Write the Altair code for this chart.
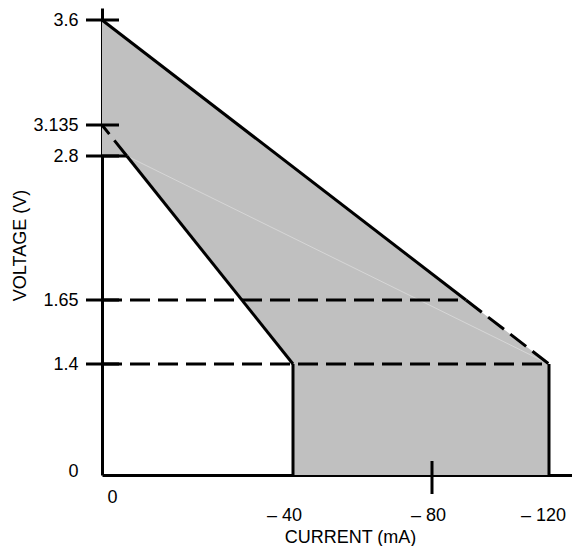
import altair as alt
import pandas as pd

FONT = "Liberation Sans, Arial"
FS = 18

# Axis ticks and labels
x_ticks = [0, -40, -80, -120]
x_labels = ["0", "– 40", "– 80", "– 120"]
y_ticks = [0, 1.4, 1.65, 2.8, 3.135, 3.6]
y_labels = ["0", "1.4", "1.65", "2.8", "3.135", "3.6"]

# Operating region outline (current mA, voltage V)
region_x = [0, -120, -120, -40, -40, -5.2, 0]
region_y = [3.6, 1.4, 0, 0, 1.4, 2.8, 2.8]

# Solid boundary segments
solid_x1 = [0, -120, -40, -40, 0]
solid_y1 = [3.6, 1.4, 1.4, 1.4, 2.8]
solid_x2 = [-91.6, -120, -40, -5.2, -5.2]
solid_y2 = [1.65, 0, 0, 2.8, 2.8]

# Dashed segments
dash_x1 = [-91.6, -5.2, 0, 0]
dash_y1 = [1.65, 2.8, 1.65, 1.4]
dash_x2 = [-120, 0, -91.6, -120]
dash_y2 = [1.4, 3.135, 1.65, 1.4]

# faint internal line
faint_x1 = [-5.2]
faint_y1 = [2.8]
faint_x2 = [-120]
faint_y2 = [1.4]


def label_expr(values, labels):
    expr = "''"
    for v, l in reversed(list(zip(values, labels))):
        expr = f"datum.value == {v} ? '{l}' : ({expr})"
    return expr


region = pd.DataFrame({"x": region_x, "y": region_y, "i": range(len(region_x))})
solid = pd.DataFrame({"x": solid_x1, "y": solid_y1, "x2": solid_x2, "y2": solid_y2})
dashed = pd.DataFrame({"x": dash_x1, "y": dash_y1, "x2": dash_x2, "y2": dash_y2})
faint = pd.DataFrame({"x": faint_x1, "y": faint_y1, "x2": faint_x2, "y2": faint_y2})
yt = pd.DataFrame({"y": [v for v in y_ticks if v != 0]})
xt = pd.DataFrame({"x": [-80]})

xscale = alt.Scale(domain=[0, -40, -80, -120, -127.9], range=[0, 191, 330, 447, 470],
                   nice=False, zero=False)
yscale = alt.Scale(domain=[0, 1.4, 1.65, 2.8, 3.135, 3.6, 3.7],
                   range=[467, 356, 292, 148, 117, 12, 0], nice=False, zero=False)

x_axis = alt.Axis(
    values=x_ticks, labelExpr=label_expr(x_ticks, x_labels), ticks=False, grid=False,
    domain=True, domainColor="black", domainWidth=3, labelFlush=False,
    labelFont=FONT, labelFontSize=FS, labelColor="black",
    labelPadding={"condition": {"test": "datum.value == 0", "value": 13}, "value": 31},
    labelOffset={"condition": [
        {"test": "datum.value == 0", "value": 10},
        {"test": "datum.value == -40", "value": -9},
        {"test": "datum.value == -80", "value": -4}], "value": -6},
    title="CURRENT (mA)", titleFont=FONT, titleFontSize=FS, titleFontWeight="normal",
    titleColor="black", titleX=248, titleY=67, titleAlign="center",
    titleBaseline="alphabetic", labelOverlap=False,
)
y_axis = alt.Axis(
    values=y_ticks, labelExpr=label_expr(y_ticks, y_labels), ticks=False, grid=False,
    domain=True, domainColor="black", domainWidth=3, labelFlush=False,
    labelFont=FONT, labelFontSize=FS, labelColor="black", labelPadding=24,
    labelOffset={"condition": {"test": "datum.value == 0", "value": -4}, "value": 0},
    title="VOLTAGE (V)", titleFont=FONT, titleFontSize=FS, titleFontWeight="normal",
    titleColor="black", titleX=-77, titleY=237, titleAlign="center",
    titleBaseline="alphabetic", labelOverlap=False,
)

X = alt.X("x:Q", scale=xscale, axis=x_axis)
Y = alt.Y("y:Q", scale=yscale, axis=y_axis)

poly = alt.Chart(region).mark_line(fill="#c0c0c0", strokeOpacity=0).encode(
    x=X, y=Y, order="i:O",
)

faint_l = alt.Chart(faint).mark_rule(color="#d6d6d6", strokeWidth=1).encode(
    x=X, y=Y, x2="x2:Q", y2="y2:Q")

solid_l = alt.Chart(solid).mark_rule(color="black", strokeWidth=3).encode(
    x=X, y=Y, x2="x2:Q", y2="y2:Q")

dash_l = alt.Chart(dashed).mark_rule(color="black", strokeWidth=3, strokeDash=[20, 8]).encode(
    x=X, y=Y, x2="x2:Q", y2="y2:Q")

ytick_l = alt.Chart(yt).mark_rule(color="black", strokeWidth=3).encode(
    y=Y, x=alt.value(-16), x2=alt.value(17))

xtick_l = alt.Chart(xt).mark_rule(color="black", strokeWidth=3).encode(
    x=X, y=alt.value(453), y2=alt.value(486))

chart = alt.layer(poly, faint_l, solid_l, dash_l, ytick_l, xtick_l).properties(
    width=470, height=467,
    autosize=alt.AutoSizeParams(type="none"),
    padding={"left": 94, "top": 0, "right": 0, "bottom": 71},
).configure_view(stroke=None)

chart.save("out.html", embed_options={"renderer": "svg", "actions": False})
